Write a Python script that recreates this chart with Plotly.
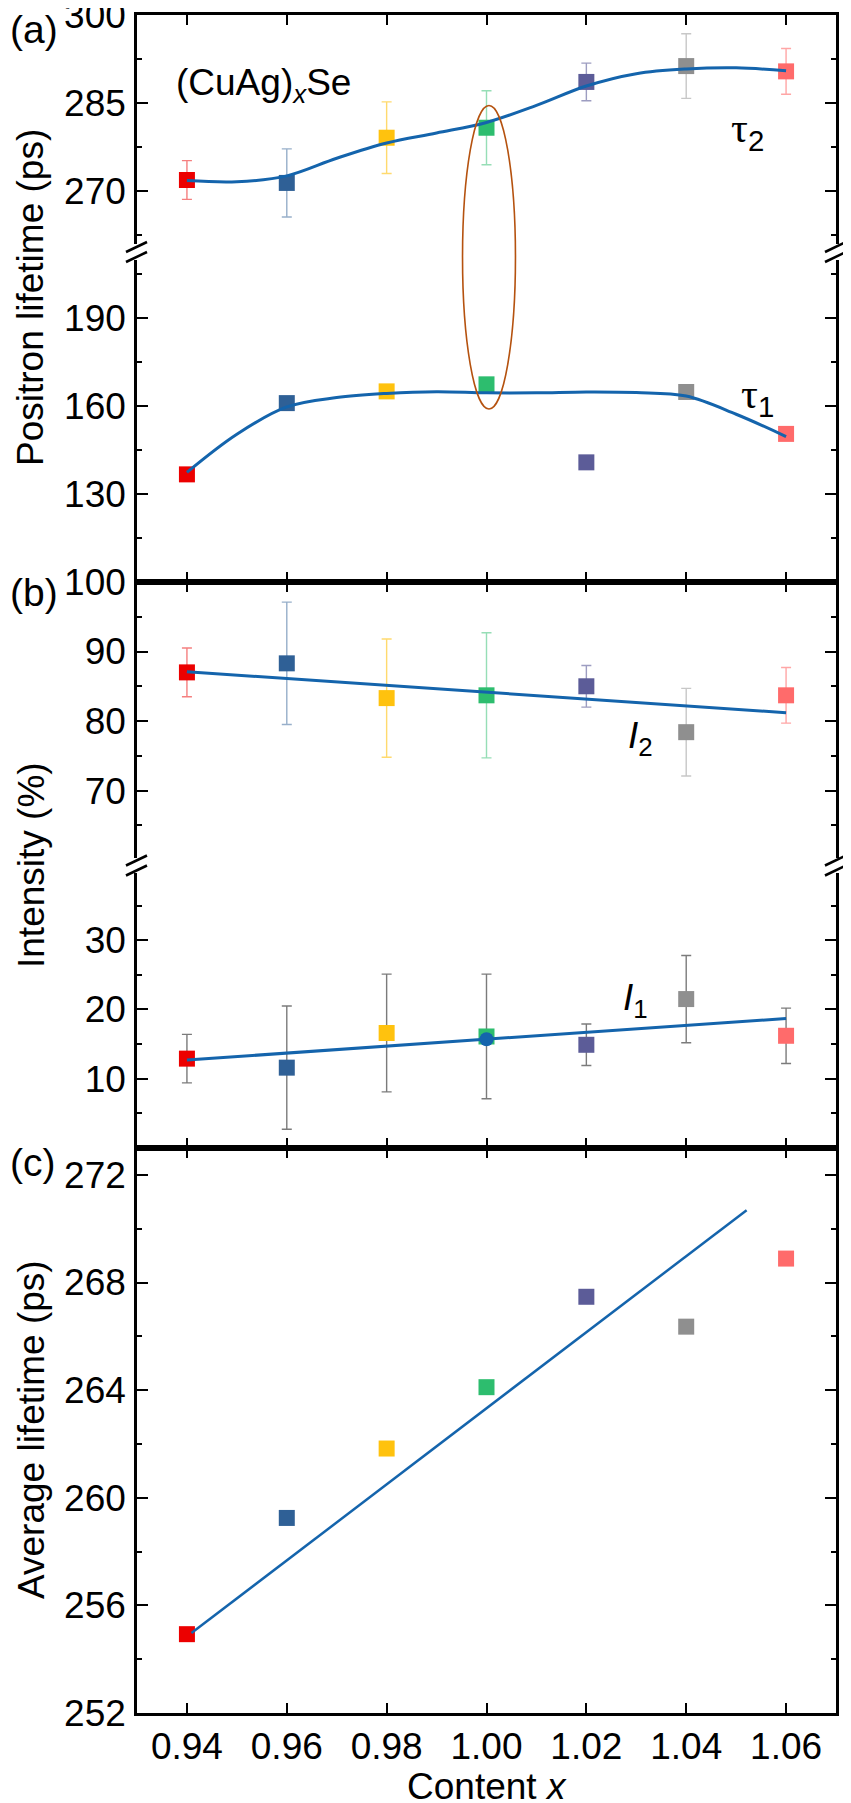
import plotly.graph_objects as go

# sample composition
content_x = [0.94, 0.96, 0.98, 1.00, 1.02, 1.04, 1.06]
point_colors = ['#ec0000', '#2f6096', '#ffc20e', '#2dbd6e', '#5c5c98', '#8f8f8f', '#ff6b6b']
bar_colors = ['rgba(236,0,0,0.5)', 'rgba(47,96,150,0.5)', 'rgba(255,194,14,0.6)', 'rgba(45,189,110,0.5)',
              'rgba(92,92,152,0.6)', 'rgba(143,143,143,0.5)', 'rgba(255,107,107,0.6)']

# (a) positron lifetimes
tau2 = [271.9, 271.4, 279.1, 280.8, 288.6, 291.3, 290.4]
tau2_err = [3.3, 5.8, 6.1, 6.3, 3.2, 5.5, 3.9]
tau1 = [136.7, 161.0, 165.0, 167.4, 140.8, 164.8, 150.5]
fit_x = [0.94, 0.95, 0.96, 0.97, 0.98, 0.99, 1.00, 1.01, 1.02, 1.03, 1.04, 1.05, 1.06]
tau2_fit = [271.8, 271.6, 272.6, 275.6, 278.2, 279.9, 281.7, 284.6, 287.9, 290.0, 290.8, 291.0, 290.5]
tau1_fit = [137.4, 150.4, 159.7, 162.9, 164.3, 164.9, 164.5, 164.5, 164.8, 164.6, 163.4, 157.2, 149.6]

# (b) intensities
i2 = [87.0, 88.3, 83.3, 83.7, 85.0, 78.4, 83.7]
i2_err = [3.5, 8.8, 8.5, 9.0, 3.0, 6.3, 4.0]
i1 = [12.9, 11.6, 16.6, 16.1, 14.9, 21.5, 16.2]
i1_err = [3.5, 8.9, 8.5, 9.0, 3.0, 6.3, 4.0]
lin_x = [0.94, 1.06]
i2_line = [87.1, 81.2]
i1_line = [12.7, 18.7]
i1_dot_x = [1.00]
i1_dot = [15.7]

# (c) average lifetime
avg = [254.93, 259.25, 261.83, 264.11, 267.47, 266.36, 268.89]
avg_line_x = [0.9409, 1.0521]
avg_line = [254.97, 270.69]

# highlighted x = 1.00 sample (ellipse), in tau units
ell_x, ell_halfw = 1.0005, 0.0053
ell_top_tau2, ell_bot_tau1 = 284.6, 159.0

FONT = 'Arial, Liberation Sans, sans-serif'
FS = 37
BLUE = '#1464ac'

# page is drawn with an 8px body margin, so the figure is shrunk by that much
OFF = 8
W, H = 851 - OFF, 1803 - OFF
PL, PR, PT, PB = 137, 836, 15, 1713          # plot box in page pixels
L, R, T, B = PL - OFF, W - (PR - OFF), PT - OFF, H - (PB - OFF)
PH = PB - PT
PW = PR - PL


def py(px):
    return (PB - px) / PH


def px_x(px):
    return (px - PL) / PW


doms = {
    'y': [py(244), 1.0],
    'y2': [py(582), py(260)],
    'y3': [py(858), py(582)],
    'y4': [py(1148), py(873)],
    'y5': [0.0, py(1148)],
}
ranges = {
    'y': [261.0, 300],
    'y2': [100, 209.8],
    'y3': [60.3, 100],
    'y4': [0, 39.7],
    'y5': [252, 273],
}
ticks = {
    'y': ([270, 285, 300], 0, 7.5),
    'y2': ([130, 160, 190], 100, 15),
    'y3': ([70, 80, 90, 100], 60, 5),
    'y4': ([10, 20, 30], 0, 5),
    'y5': ([252, 256, 260, 264, 268, 272], 252, 2),
}


def to_paper(ax, v):
    d0, d1 = doms[ax]
    r0, r1 = ranges[ax]
    return d0 + (v - r0) / (r1 - r0) * (d1 - d0)


fig = go.Figure()

for i, x in enumerate(content_x):
    fig.add_trace(go.Scatter(x=[x], y=[tau2[i]], xaxis='x', yaxis='y', mode='markers',
                             marker=dict(symbol='square', size=16, color=point_colors[i]),
                             error_y=dict(type='data', array=[tau2_err[i]], color=bar_colors[i],
                                          thickness=1.4, width=5)))
    fig.add_trace(go.Scatter(x=[x], y=[tau1[i]], xaxis='x2', yaxis='y2', mode='markers',
                             marker=dict(symbol='square', size=16, color=point_colors[i])))
    fig.add_trace(go.Scatter(x=[x], y=[i2[i]], xaxis='x3', yaxis='y3', mode='markers',
                             marker=dict(symbol='square', size=16, color=point_colors[i]),
                             error_y=dict(type='data', array=[i2_err[i]], color=bar_colors[i],
                                          thickness=1.4, width=5)))
    fig.add_trace(go.Scatter(x=[x], y=[i1[i]], xaxis='x4', yaxis='y4', mode='markers',
                             marker=dict(symbol='square', size=16, color=point_colors[i]),
                             error_y=dict(type='data', array=[i1_err[i]], color='rgba(90,90,90,0.8)',
                                          thickness=1.4, width=5)))
    fig.add_trace(go.Scatter(x=[x], y=[avg[i]], xaxis='x5', yaxis='y5', mode='markers',
                             marker=dict(symbol='square', size=16, color=point_colors[i])))

fig.add_trace(go.Scatter(x=fit_x, y=tau2_fit, xaxis='x', yaxis='y', mode='lines',
                         line=dict(color=BLUE, width=3, shape='spline')))
fig.add_trace(go.Scatter(x=fit_x, y=tau1_fit, xaxis='x2', yaxis='y2', mode='lines',
                         line=dict(color=BLUE, width=3, shape='spline')))
fig.add_trace(go.Scatter(x=lin_x, y=i2_line, xaxis='x3', yaxis='y3', mode='lines',
                         line=dict(color=BLUE, width=3)))
fig.add_trace(go.Scatter(x=lin_x, y=i1_line, xaxis='x4', yaxis='y4', mode='lines',
                         line=dict(color=BLUE, width=3)))
fig.add_trace(go.Scatter(x=i1_dot_x, y=i1_dot, xaxis='x4', yaxis='y4', mode='markers',
                         marker=dict(symbol='circle', size=14, color=BLUE)))
fig.add_trace(go.Scatter(x=avg_line_x, y=avg_line, xaxis='x5', yaxis='y5', mode='lines',
                         line=dict(color=BLUE, width=2.5)))

xbase = dict(range=[0.93, 1.07], showline=True, linecolor='black', linewidth=2.5,
             ticks='inside', ticklen=10, tickwidth=2, tickcolor='black', tickvals=content_x,
             showgrid=False, zeroline=False, showticklabels=False, automargin=False)
layout = {}
sides = {'x': ('top', 'y'), 'x2': ('bottom', 'y2'), 'x3': ('top', 'y3'),
         'x4': ('bottom', 'y4'), 'x5': ('bottom', 'y5')}
for name, (side, anc) in sides.items():
    key = 'xaxis' if name == 'x' else 'xaxis' + name[1:]
    layout[key] = dict(xbase, side=side, anchor=anc)
layout['xaxis5'].update(showticklabels=True, mirror='ticks', tickformat='.2f',
                        tickfont=dict(family=FONT, size=FS, color='black'), ticklabelstandoff=-1)

for ax in doms:
    key = 'yaxis' if ax == 'y' else 'yaxis' + ax[1:]
    tv, t0, md = ticks[ax]
    layout[key] = dict(domain=doms[ax], range=ranges[ax], anchor='x' if ax == 'y' else 'x' + ax[1:],
                       showline=True, linecolor='black', linewidth=2.5, mirror='ticks',
                       ticks='inside', ticklen=11, tickwidth=2, tickcolor='black',
                       tickmode='array', tickvals=tv,
                       minor=dict(tickmode='linear', tick0=t0, dtick=md, ticks='inside',
                                  ticklen=5, tickwidth=2, tickcolor='black'),
                       showgrid=False, zeroline=False, ticklabelstandoff=1, automargin=False,
                       ticklabeloverflow='allow',
                       tickfont=dict(family=FONT, size=FS, color='black'))

fig.update_layout(width=W, height=H, margin=dict(l=L, r=R, t=T, b=B, autoexpand=False),
                  plot_bgcolor='white', paper_bgcolor='white', showlegend=False,
                  font=dict(family=FONT, size=FS, color='black'), **layout)

shapes = []
# axis break marks
for yc in (252, 865.5):
    for xe in (0.0, 1.0):
        for dy in (-5, 5):
            shapes.append(dict(type='line', xref='paper', yref='paper',
                               x0=xe + (-11) / PW, y0=py(yc + dy + 5),
                               x1=xe + 10 / PW, y1=py(yc + dy - 5),
                               line=dict(color='black', width=2.5)))
# ellipse around x = 1.00
shapes.append(dict(type='circle', xref='x', yref='paper',
                   x0=ell_x - ell_halfw, x1=ell_x + ell_halfw,
                   y0=to_paper('y2', ell_bot_tau1), y1=to_paper('y', ell_top_tau2),
                   line=dict(color='#b5520f', width=1.6)))
fig.update_layout(shapes=shapes)

ann = []
for lab, ypx in (('(a)', 30), ('(b)', 592), ('(c)', 1163)):
    ann.append(dict(text=lab, xref='paper', yref='paper', x=px_x(OFF), y=py(ypx),
                    xanchor='left', yanchor='middle', showarrow=False, font=dict(size=39)))
for lab, ypx in (('Positron lifetime (ps)', 298), ('Intensity (%)', 865), ('Average lifetime (ps)', 1430)):
    ann.append(dict(text=lab, xref='paper', yref='paper', x=px_x(31), y=py(ypx), textangle=-90,
                    xanchor='center', yanchor='middle', showarrow=False, font=dict(size=FS)))
ann.append(dict(text='Content <i>x</i>', xref='paper', yref='paper', x=0.5, y=py(1786),
                xanchor='center', yanchor='middle', showarrow=False, font=dict(size=FS)))
ann.append(dict(text='(CuAg)<sub><i>x</i></sub>Se', xref='x', yref='y', x=0.9374, y=288.0,
                xanchor='left', yanchor='middle', showarrow=False, font=dict(size=FS)))
TAU = '<span style="font-family:\'Liberation Serif\', serif">τ</span>'
ann.append(dict(text=TAU + '<sub>2</sub>', xref='x', yref='y', x=1.0485, y=280.3,
                xanchor='left', yanchor='middle', showarrow=False, font=dict(size=42)))
ann.append(dict(text=TAU + '<sub>1</sub>', xref='x2', yref='y2', x=1.0505, y=163.0,
                xanchor='left', yanchor='middle', showarrow=False, font=dict(size=42)))
ann.append(dict(text='<i>I</i><sub>2</sub>', xref='x3', yref='y3', x=1.028, y=77.6,
                xanchor='left', yanchor='middle', showarrow=False, font=dict(size=FS)))
ann.append(dict(text='<i>I</i><sub>1</sub>', xref='x4', yref='y4', x=1.027, y=21.4,
                xanchor='left', yanchor='middle', showarrow=False, font=dict(size=FS)))
fig.update_layout(annotations=ann)

fig.write_html("out.html")
